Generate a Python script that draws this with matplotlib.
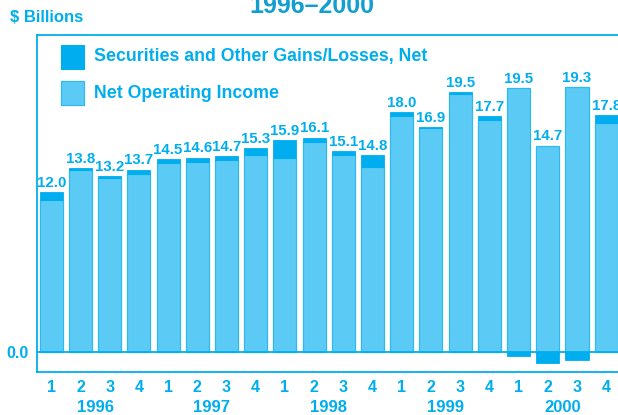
import matplotlib
matplotlib.use("Agg")
import matplotlib.pyplot as plt
from matplotlib.patches import Rectangle
from matplotlib.transforms import blended_transform_factory
import numpy as np

quarters = ["1", "2", "3", "4"] * 5
years = ["1996", "1997", "1998", "1999", "2000"]
net_operating = [11.4, 13.7, 13.1, 13.4, 14.2, 14.3, 14.4, 14.8, 14.6, 15.8,
                 14.8, 13.9, 17.7, 16.8, 19.4, 17.4, 19.8, 15.5, 19.9, 17.2]
securities = [0.6, 0.1, 0.1, 0.3, 0.3, 0.3, 0.3, 0.5, 1.3, 0.3,
              0.3, 0.9, 0.3, 0.1, 0.1, 0.3, -0.3, -0.8, -0.6, 0.6]
totals = [12.0, 13.8, 13.2, 13.7, 14.5, 14.6, 14.7, 15.3, 15.9, 16.1,
          15.1, 14.8, 18.0, 16.9, 19.5, 17.7, 19.5, 14.7, 19.3, 17.8]

LIGHT = "#5BCBF5"
DARK = "#00AEEF"
EDGE = "#2FB9EE"
TEXT = "#00AEEF"
TITLE = "#129FCF"
FONT = "Liberation Sans"

W, H = 618, 415
fig = plt.figure(figsize=(W / 100, H / 100), dpi=100)

def fx(px):
    return px / W

def fy(py):
    return 1 - py / H

# axes: left 37px, top 35px, bottom 372px, right off-figure
left, right = 37, 623.7
top, bottom = 35, 372
ax = fig.add_axes([fx(left), fy(bottom), fx(right - left), (bottom - top) / H])

x = np.arange(len(totals))
bw = 0.79
ax.bar(x, net_operating, width=bw, color=LIGHT, edgecolor=EDGE, linewidth=0.9, zorder=2)
sec = np.array(securities)
op = np.array(net_operating)
bases = np.where(sec >= 0, op, 0)
ax.bar(x, sec, bottom=bases, width=bw, color=DARK, edgecolor=DARK, linewidth=0.6, zorder=3)

ax.axhline(0, color=DARK, linewidth=1.3, zorder=4)

for xi, o, s, t in zip(x, op, sec, totals):
    top_val = max(o, o + s)
    ax.annotate(f"{t:.1f}", (xi, top_val), xytext=(0, 1.5), textcoords="offset points",
                ha="center", va="bottom", color=TEXT, fontsize=10.8, fontweight="bold",
                family=FONT, zorder=5)

ax.set_xlim(-0.49, 19.6)
ax.set_ylim(-1.5, 23.8)

for side in ["top", "left", "bottom", "right"]:
    ax.spines[side].set_color(DARK)
    ax.spines[side].set_linewidth(1.3)

ax.set_xticks(x)
ax.set_xticklabels(quarters)
ax.set_yticks([0])
ax.set_yticklabels(["0.0"])
ax.tick_params(axis="both", length=0, colors=TEXT)
ax.tick_params(axis="x", pad=6)
ax.tick_params(axis="y", pad=6)
for lab in ax.get_xticklabels() + ax.get_yticklabels():
    lab.set_fontweight("bold")
    lab.set_family(FONT)
    lab.set_fontsize(11.5)
    lab.set_color(TEXT)

trans = blended_transform_factory(ax.transData, fig.transFigure)
for i, yr in enumerate(years):
    ax.text(1.5 + 4 * i, fy(407), yr, transform=trans, ha="center", va="center",
            color=TEXT, fontsize=12, fontweight="bold", family=FONT, clip_on=False)

# titles
fig.text(fx(10), fy(18), "$ Billions", ha="left", va="center", color=TEXT,
         fontsize=12, fontweight="bold", family=FONT)
fig.text(fx(312), fy(6), "1996\u20132000", ha="center", va="center", color=TITLE,
         fontsize=18, fontweight="bold", family=FONT)

# legend
fig.patches.append(Rectangle((fx(61), fy(69)), fx(23), 24 / H, transform=fig.transFigure,
                             facecolor=DARK, edgecolor=DARK, linewidth=0.8))
fig.patches.append(Rectangle((fx(61), fy(105)), fx(23), 24 / H, transform=fig.transFigure,
                             facecolor=LIGHT, edgecolor=EDGE, linewidth=0.9))
fig.text(fx(94), fy(57), "Securities and Other Gains/Losses, Net", ha="left", va="center",
         color=TEXT, fontsize=12.8, fontweight="bold", family=FONT)
fig.text(fx(94), fy(93), "Net Operating Income", ha="left", va="center",
         color=TEXT, fontsize=12.8, fontweight="bold", family=FONT)

fig.savefig("out.png", dpi=100)
